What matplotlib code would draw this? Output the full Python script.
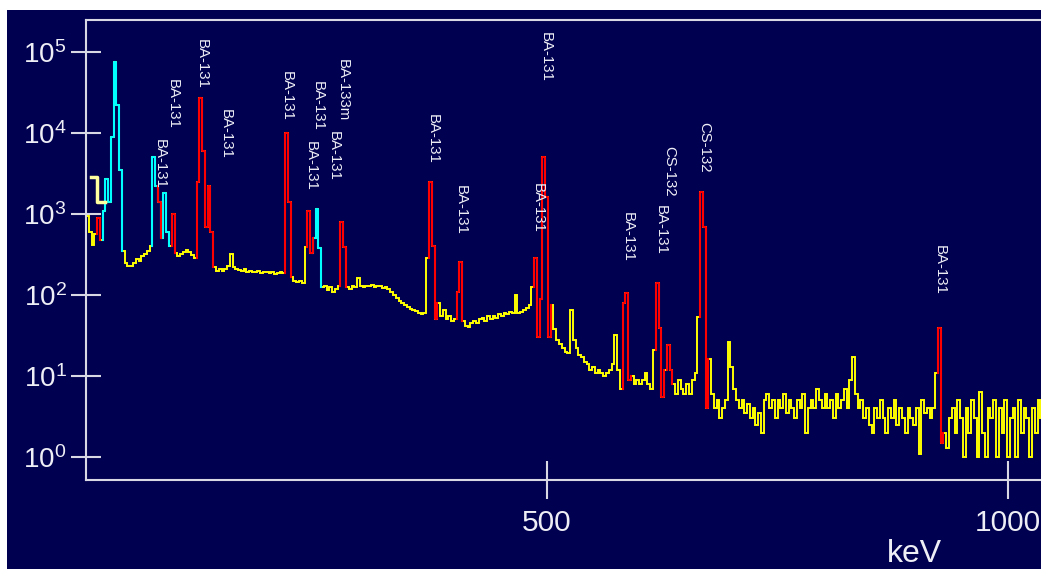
import matplotlib
matplotlib.use('Agg')
import matplotlib.pyplot as plt
import numpy as np
from matplotlib.patches import Rectangle

plt.rcParams['font.family'] = ['Liberation Sans', 'DejaVu Sans']
plt.rcParams['mathtext.fontset'] = 'custom'
plt.rcParams['mathtext.rm'] = 'Liberation Sans'
plt.rcParams['mathtext.it'] = 'Liberation Sans:italic'
plt.rcParams['mathtext.bf'] = 'Liberation Sans:bold'

# ---------------- data ----------------
CHANNEL_KEV = 3.0
counts = [
    950, 600, 420, 560, 900, 480, 1100, 2700, 1400, 9000,
    75000, 22000, 3500, 350, 250, 230, 230, 250, 280, 260,
    300, 320, 350, 400, 5000, 2200, 1400, 500, 1800, 600,
    400, 1000, 330, 300, 320, 340, 360, 340, 310, 290,
    2500, 27000, 6000, 700, 2200, 600, 220, 200, 210, 200,
    210, 230, 320, 220, 210, 205, 200, 210, 195, 200,
    190, 195, 200, 185, 190, 195, 185, 190, 180, 185,
    190, 185, 9900, 1400, 165, 150, 145, 150, 140, 390,
    1100, 330, 500, 1150, 380, 125, 130, 115, 125, 110,
    120, 130, 800, 390, 125, 120, 130, 125, 160, 130,
    125, 130, 128, 132, 125, 130, 128, 122, 125, 118,
    110, 100, 92, 85, 80, 75, 72, 68, 66, 64,
    60, 58, 60, 290, 2500, 400, 50, 80, 55, 65,
    50, 55, 48, 50, 110, 255, 48, 42, 40, 45,
    48, 45, 50, 52, 48, 55, 50, 55, 52, 58,
    55, 60, 58, 62, 60, 100, 60, 62, 65, 70,
    75, 125, 285, 30, 90, 5000, 1600, 30, 75, 38,
    28, 25, 22, 20, 19, 65, 28, 22, 18, 17,
    15, 14, 12, 13, 11, 12, 11, 10, 11, 12,
    14, 32, 12, 7, 80, 107, 9, 10, 8, 9,
    8, 9, 11, 8, 7, 21, 140, 39, 5.5, 12,
    24, 12, 8, 6, 9, 7, 6, 8, 6, 9,
    11, 53, 1860, 690, 4, 16, 6, 4, 5, 3,
    4, 5, 26, 13, 7, 5, 4, 5, 3.5, 4.5,
    3, 4, 2.5, 3.5, 2, 5, 6, 4, 5, 3,
    5, 4, 6, 3.5, 5, 4, 3, 5, 4, 6,
    2, 4, 5, 4, 7, 5, 4, 6, 4, 5,
    3, 6, 4, 5, 7, 4, 9, 17, 6, 4,
    5, 3, 4, 2.5, 2, 4, 3, 5, 3, 2,
    4, 3, 5, 2.5, 4, 3, 2, 4, 3, 2.5,
    4, 1.1, 5, 3.5, 4, 3, 4, 11, 39, 1.5,
    2, 1.3, 3, 4, 2, 5, 3, 1, 4, 2,
    5, 3, 1, 6.3, 2, 1, 4, 3, 5, 1,
    4, 2, 5, 1, 3, 4, 1, 5, 2, 4,
    3, 1, 4, 2, 5, 3,
]
red_keV = [(12, 15), (78, 81), (93, 96), (120, 138), (216, 222), (240, 246),
           (276, 282), (372, 381), (402, 408), (486, 492), (495, 504),
           (582, 591), (618, 627), (630, 636), (666, 675), (924, 930)]
cyan_keV = [(18, 39), (72, 78), (81, 90), (246, 255)]
marker_keV = [5, 12, 21]
marker_counts = [2900, 1400, 1400]

label_names = ['BA-131', 'BA-131', 'BA-131', 'BA-131', 'BA-131', 'BA-131',
               'BA-131', 'BA-131', 'BA-133m', 'BA-131', 'BA-131', 'BA-131',
               'BA-131', 'BA-131', 'CS-132', 'BA-131', 'CS-132', 'BA-131']
label_keV = [80.3, 94.4, 125.8, 151.8, 218, 251.6, 244, 269, 278.7,
             376.4, 406.7, 498.9, 490.2, 587.9, 632.3, 623.6, 670.3, 926.2]
label_top = [8430, 46400, 144600, 19800, 58200, 43800, 7960, 10600, 82000,
             17200, 2280, 176700, 2410, 1060, 6910, 1290, 13700, 414]

x_ticks = [500, 1000]
y_ticks = [1, 10, 100, 1000, 10000, 100000]
x_label = 'keV'

# ---------------- style ----------------
NAVY = '#000050'
AXC = '#d8d8e4'
TXT = '#eeeef6'
W, H = 1041, 569

fig = plt.figure(figsize=(W / 100, H / 100), dpi=100, facecolor='white')
bg = Rectangle((7 / W, 0), 1, 1 - 10 / H, transform=fig.transFigure,
               facecolor=NAVY, edgecolor='none', zorder=-10)
fig.patches.append(bg)
ax = fig.add_axes([86 / W, 89 / H, (W - 86) / W, 460 / H])
ax.set_facecolor(NAVY)
ax.set_zorder(1)

c = np.array(counts, dtype=float)
edges = np.arange(len(c) + 1) * CHANNEL_KEV
ax.stairs(c, edges, baseline=None, color='#ffff00', lw=1.4, zorder=2)


def draw_range(e0, e1, color):
    i0 = int(round(e0 / CHANNEL_KEV))
    i1 = int(round(e1 / CHANNEL_KEV)) - 1
    xs = [edges[i0]] + list(edges[i0:i1 + 2])
    ys = [c[i0 - 1]] + list(c[i0:i1 + 2])
    ax.plot(xs, ys, drawstyle='steps-post', color=color, lw=1.5, zorder=3)


for e0, e1 in cyan_keV:
    draw_range(e0, e1, '#00ffff')
for e0, e1 in red_keV:
    draw_range(e0, e1, '#ff0000')

ax.step(marker_keV, marker_counts, where='post', color='#ffffa0', lw=2.5, zorder=4)

for name, e, top in zip(label_names, label_keV, label_top):
    ax.text(e, top, name, rotation=-90, ha='center', va='top', color=TXT,
            fontsize=10.8, zorder=5)

ax.set_yscale('log')
ax.set_xlim(0, (W - 86) / 0.922)
ax.set_ylim(10 ** -0.284, 10 ** 5.395)
ax.set_yticks(y_ticks)
ax.yaxis.set_minor_locator(matplotlib.ticker.NullLocator())
ax.set_xticks(x_ticks)
ax.set_xticklabels([str(t) for t in x_ticks])

for s in ['left', 'top', 'bottom']:
    ax.spines[s].set_color(AXC)
    ax.spines[s].set_linewidth(1.5)
ax.spines['right'].set_visible(False)

ax.tick_params(axis='y', direction='inout', length=21, width=1.5, color=AXC,
               labelcolor=TXT, labelsize=20, pad=3.5)
ax.tick_params(axis='x', direction='inout', length=27, width=1.5, color=AXC,
               labelcolor=TXT, labelsize=21.5, pad=7.5)

fig.text(914 / W, 7 / H, x_label, ha='center', va='baseline', color=TXT,
         fontsize=23)

fig.savefig('out.png', dpi=100, facecolor='white')
